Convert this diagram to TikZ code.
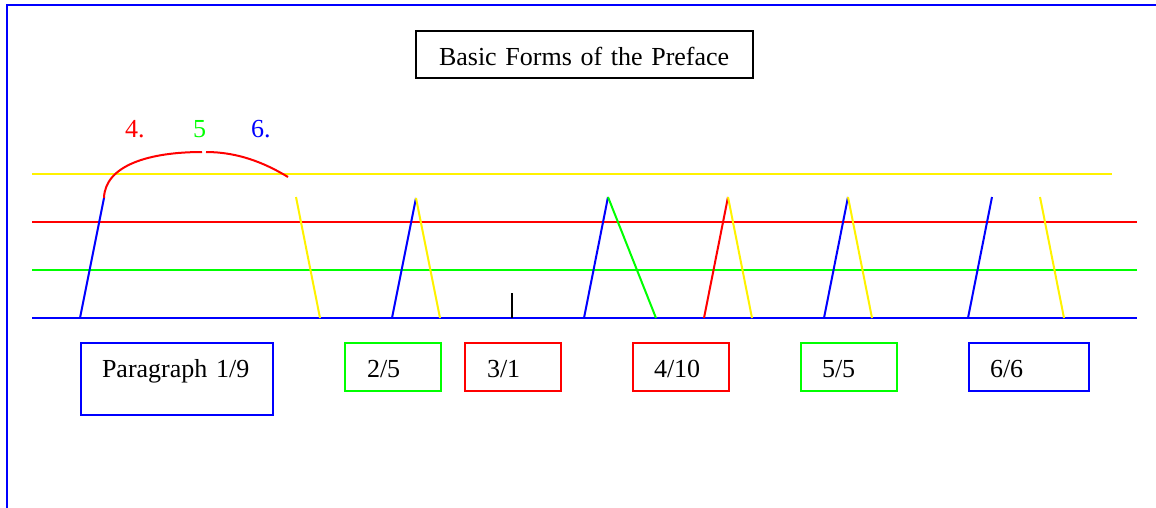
\documentclass[tikz,border=0pt]{standalone}
\usepackage{fontspec}
\setmainfont[WordSpace=0.8]{Liberation Serif}
\begin{document}
\begin{tikzpicture}[x=1pt,y=-1pt,line width=2pt,
  fnt/.style={font=\fontsize{26}{30}\selectfont},
  lbl/.style={fnt,inner sep=0pt,anchor=base west},
  lbox/.style={fnt,draw=#1,rectangle,anchor=north west,inner xsep=0pt,inner ysep=0pt,align=left,text=black},
  stroke/.style={draw=#1,line width=2pt}]
\useasboundingbox (0,0) rectangle (1156,507);
% outer frame
\coordinate (fr1) at (1170,5);
\coordinate (fr2) at (7,5);
\coordinate (fr3) at (7,520);
\draw[stroke=blue] (fr1) -- (fr2) -- (fr3);
% title
\node[lbox=black,text width=337pt,text height=34pt,text depth=13pt] (title) at (415,30) {\hspace*{23pt}Basic Forms of the Preface};
% horizontal lines
\coordinate (yl) at (32,174); \coordinate (yr) at (1112,174);
\coordinate (rl) at (32,222); \coordinate (rr) at (1137,222);
\coordinate (gl) at (32,270); \coordinate (gr) at (1137,270);
\coordinate (bl) at (32,318); \coordinate (br) at (1137,318);
\draw[stroke=yellow] (yl) -- (yr);
\draw[stroke=red] (rl) -- (rr);
\draw[stroke=green] (gl) -- (gr);
\draw[stroke=blue] (bl) -- (br);
% first form with arc
\coordinate (a0) at (80,318); \coordinate (a1) at (104,198);
\coordinate (a2) at (202,152); \coordinate (a3) at (206,152); \coordinate (a4) at (288,177);
\draw[stroke=blue] (a0) -- (a1);
\draw[stroke=red] (a1) .. controls (105,165) and (150,152) .. (a2);
\draw[stroke=red] (a3) .. controls (238,152) and (265,163) .. (a4);
\node[lbl,text=red] (n4) at (124,137) {4.};
\node[lbl,text=green] (n5) at (192,137) {5};
\node[lbl,text=blue] (n6) at (250,137) {6.};
\coordinate (s0) at (296,197); \coordinate (s1) at (320,318);
\draw[stroke=yellow] (s0) -- (s1);
% form 2
\coordinate (t1a) at (392,318); \coordinate (t1b) at (416,198); \coordinate (t1c) at (440,318);
\draw[stroke=blue] (t1a) -- (t1b);
\draw[stroke=yellow] (t1b) -- (t1c);
% form 3 tick
\coordinate (k0) at (512,293); \coordinate (k1) at (512,318);
\draw[black,line width=1.3pt] (k0) -- (k1);
% form 4
\coordinate (t2a) at (584,318); \coordinate (t2b) at (608,197); \coordinate (t2c) at (656,318);
\draw[stroke=blue] (t2a) -- (t2b);
\draw[stroke=green] (t2b) -- (t2c);
% form 5
\coordinate (t3a) at (704,318); \coordinate (t3b) at (728,197); \coordinate (t3c) at (752,318);
\draw[stroke=red] (t3a) -- (t3b);
\draw[stroke=yellow] (t3b) -- (t3c);
% form 6
\coordinate (t4a) at (824,318); \coordinate (t4b) at (848,197); \coordinate (t4c) at (872,318);
\draw[stroke=blue] (t4a) -- (t4b);
\draw[stroke=yellow] (t4b) -- (t4c);
% form 7
\coordinate (t5a) at (968,318); \coordinate (t5b) at (992,197);
\coordinate (t5c) at (1040,197); \coordinate (t5d) at (1064,318);
\draw[stroke=blue] (t5a) -- (t5b);
\draw[stroke=yellow] (t5c) -- (t5d);
% boxes
\node[lbox=blue,text width=192pt,text height=34pt,text depth=38pt] (p1) at (80,342) {\hspace*{21pt}Paragraph 1/9};
\node[lbox=green,text width=96pt,text height=34pt,text depth=14pt] (p2) at (344,342) {\hspace*{22pt}2/5};
\node[lbox=red,text width=96pt,text height=34pt,text depth=14pt] (p3) at (464,342) {\hspace*{22pt}3/1};
\node[lbox=red,text width=96pt,text height=34pt,text depth=14pt] (p4) at (632,342) {\hspace*{21pt}4/10};
\node[lbox=green,text width=96pt,text height=34pt,text depth=14pt] (p5) at (800,342) {\hspace*{21pt}5/5};
\node[lbox=blue,text width=120pt,text height=34pt,text depth=14pt] (p6) at (968,342) {\hspace*{21pt}6/6};
\end{tikzpicture}
\end{document}
